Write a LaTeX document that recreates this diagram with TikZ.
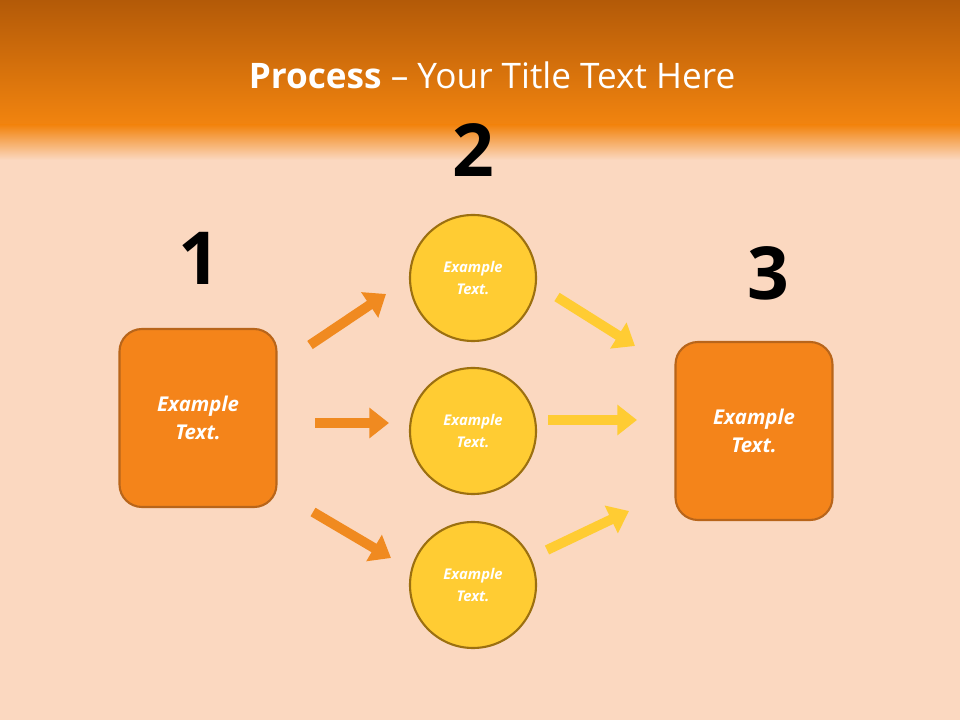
\documentclass[tikz,border=0pt]{standalone}
\usepackage{fontspec}
\setmainfont{Open Sans}
\usetikzlibrary{arrows.meta}
\definecolor{bgp}{HTML}{FBD8C0}
\definecolor{topd}{HTML}{B35A08}
\definecolor{topo}{HTML}{F2840F}
\definecolor{boxo}{HTML}{F4841A}
\definecolor{boxb}{HTML}{B8651A}
\definecolor{circy}{HTML}{FFCC33}
\definecolor{circb}{HTML}{9C7010}
\definecolor{arro}{HTML}{F08A20}
\tikzset{
  box/.style={rounded corners=16pt,fill=boxo,draw=boxb,line width=1.5pt,minimum width=157*0.025cm,minimum height=178*0.025cm,text=white,font=\fontsize{14.5}{20}\selectfont\bfseries\itshape,align=center},
  circ/.style={circle,fill=circy,draw=circb,line width=1.5pt,minimum size=126*0.025cm,text=white,font=\fontsize{10.5}{16}\selectfont\bfseries\itshape,align=center},
  num/.style={font=\fontsize{52}{52}\selectfont\bfseries,text=black},
  barr/.style={line width=7pt,-{Triangle[width=21pt,length=14pt]}},
}
\begin{document}
\begin{tikzpicture}[x=0.025cm,y=-0.025cm]
\useasboundingbox (0,0) rectangle (960,720);
\fill[bgp] (0,0) rectangle (960,720);
\shade[top color=topd,bottom color=topo] (0,0) rectangle (960,125);
\shade[top color=topo,bottom color=bgp] (0,125) rectangle (960,160);
\node[text=white,font=\fontsize{25}{30}\selectfont] (title) at (492,75) {\textbf{Process} -- Your Title Text Here};
\node[box] (b1) at (198,418) {Example\\Text.};
\node[box] (b3) at (754,431) {Example\\Text.};
\node[circ] (c1) at (473,278) {Example\\Text.};
\node[circ] (c2) at (473,431) {Example\\Text.};
\node[circ] (c3) at (473,585) {Example\\Text.};
\node[num] (n1) at (199,258) {1};
\node[num] (n2) at (473,150) {2};
\node[num] (n3) at (768,273) {3};
\coordinate (a1s) at (310,345); \coordinate (a1e) at (386,294);
\coordinate (a2s) at (315,423); \coordinate (a2e) at (389,423);
\coordinate (a3s) at (313,512); \coordinate (a3e) at (391,558);
\coordinate (a4s) at (557,297); \coordinate (a4e) at (635,346);
\coordinate (a5s) at (548,420); \coordinate (a5e) at (637,420);
\coordinate (a6s) at (547,550); \coordinate (a6e) at (629,511);
\draw[barr,arro] (a1s) -- (a1e);
\draw[barr,arro] (a2s) -- (a2e);
\draw[barr,arro] (a3s) -- (a3e);
\draw[barr,circy] (a4s) -- (a4e);
\draw[barr,circy] (a5s) -- (a5e);
\draw[barr,circy] (a6s) -- (a6e);
\end{tikzpicture}
\end{document}
